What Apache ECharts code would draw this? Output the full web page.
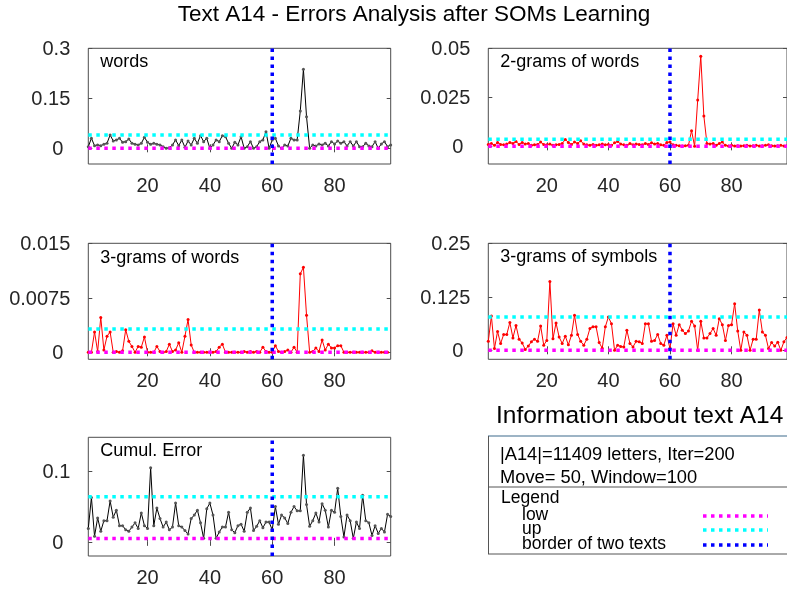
<!DOCTYPE html>
<html><head><meta charset="utf-8">
<script src="https://cdn.jsdelivr.net/npm/echarts@6/dist/echarts.min.js"></script>
<style>html,body{margin:0;padding:0;background:#fff}#c{width:787px;height:594px}</style>
</head><body><div id="c"></div>
<script>
const FONT = '"Liberation Sans", Arial, Helvetica, sans-serif';
const xTicks = [20, 40, 60, 80];
const borderX = 60;

const wordsErr = [0.005,0.03,0.008,0.01,0.008,0.012,0.015,0.04,0.022,0.025,
0.03,0.018,0.02,0.028,0.015,0.012,0.01,0.015,0.033,0.018,
0.012,0.015,0.012,0.01,0.005,0.0,0.002,0.01,0.025,0.008,
0.025,0.003,0.022,0.01,0.03,0.015,0.038,0.02,0.03,0.0,
0.01,0.025,0.02,0.038,0.035,0.015,0.0,0.018,0.01,
0.035,0.0,0.005,0.02,0.0,0.005,0.02,0.025,0.05,0.0,
0.025,0.03,0.007,0.0,0.01,0.007,0.03,0.025,0.025,0.112,
0.237,0.095,0.0,0.01,0.007,0.013,0.01,0.015,0.007,0.02,
0.013,0.022,0.015,0.02,0.007,0.02,0.007,0.02,0.005,0.005,
0.015,0.007,0.005,0.02,0.0,0.013,0.02,0.005,0.01];

const bigramErr = [0.001,0.0015,0.0005,0.002,0.001,0.0008,0.0012,0.002,0.0015,0.0025,
0.001,0.002,0.0012,0.0015,0.0005,0.0008,0.001,0.0022,0.001,0.0008,
0.0012,0.0005,0.0008,0.001,0.0015,0.0035,0.002,0.001,0.0022,0.0015,
0.0028,0.0012,0.0008,0.0005,0.001,0.0005,0.0008,0.0012,0.0008,0.001,
0.0005,0.0018,0.0025,0.0012,0.0008,0.0005,0.0015,0.0008,0.0012,
0.001,0.0008,0.0015,0.001,0.0018,0.0012,0.0015,0.0008,0.0005,0.002,
0.0022,0.0008,0.0005,0.0003,0.0002,0.0003,0.0005,0.008,0.0,0.0236,
0.046,0.0155,0.0015,0.0012,0.0015,0.0005,0.0015,0.0022,0.0005,0.0002,
0.0005,0.0002,0.0003,0.0002,0.0003,0.0005,0.0002,0.0003,0.0005,0.0002,
0.0003,0.0005,0.0008,0.0003,0.0002,0.0003,0.0005,0.0002,0.0003];

const trigramErr = [0.0,0.0,0.0028,0.0001,0.0048,0.0003,0.0022,0.0028,0.0,0.0001,
0.0,0.0002,0.0031,0.0015,0.0008,0.0,0.0008,0.0007,0.0021,0.0,
0.0,0.0,0.0008,0.0001,0.0,0.0001,0.0011,0.0001,0.0003,0.0013,
0.0,0.0022,0.0045,0.001,0.0,0.0,0.0,0.0,0.0,0.0,
0.0,0.0001,0.0007,0.0011,0.0,0.0,0.0,0.0,0.0,
0.0,0.0001,0.0,0.0001,0.0,0.0001,0.0,0.0007,0.0001,0.0,
0.0,0.0009,0.0001,0.0,0.0001,0.0003,0.0,0.0007,0.0,0.0108,
0.0117,0.0051,0.0,0.0001,0.0006,0.0001,0.0017,0.0003,0.0011,0.0006,
0.0006,0.0009,0.0009,0.0,0.0,0.0,0.0,0.0,0.0,0.0,
0.0,0.0,0.0002,0.0,0.0,0.0,0.0,0.0];

const symbolErr = [0.021,0.08,0.004,0.044,0.016,0.037,0.037,0.065,0.029,0.058,
0.026,0.017,0.002,0.01,0.02,0.026,0.021,0.057,0.012,0.023,
0.161,0.027,0.064,0.031,0.016,0.033,0.013,0.035,0.082,0.037,
0.021,0.012,0.026,0.051,0.055,0.055,0.018,0.005,0.055,0.078,
0.062,0.0,0.012,0.009,0.008,0.047,0.016,0.008,0.021,
0.02,0.016,0.062,0.062,0.021,0.023,0.037,0.016,0.012,0.035,
0.004,0.062,0.035,0.060,0.047,0.039,0.045,0.068,0.057,0.0,
0.068,0.029,0.029,0.039,0.051,0.035,0.074,0.060,0.023,0.058,
0.060,0.109,0.045,0.0,0.043,0.035,0.0,0.026,0.026,0.094,
0.043,0.035,0.004,0.018,0.010,0.019,0.0,0.02,0.03];

const cumulErr = [0.019,0.063,0.008,0.034,0.015,0.030,0.030,0.058,0.035,0.045,
0.023,0.023,0.017,0.015,0.021,0.027,0.019,0.041,0.023,0.019,
0.105,0.023,0.048,0.033,0.021,0.028,0.017,0.021,0.055,0.023,
0.021,0.016,0.011,0.033,0.038,0.045,0.027,0.005,0.047,0.055,
0.038,0.005,0.014,0.021,0.021,0.042,0.017,0.013,0.023,
0.025,0.015,0.042,0.048,0.016,0.022,0.030,0.020,0.028,0.028,
0.017,0.050,0.025,0.038,0.034,0.026,0.042,0.050,0.044,0.044,
0.123,0.053,0.022,0.030,0.041,0.028,0.054,0.045,0.021,0.045,
0.042,0.076,0.036,0.007,0.038,0.030,0.005,0.028,0.019,0.066,
0.030,0.027,0.009,0.023,0.012,0.019,0.014,0.039,0.036];

const panelNames = ['words', '2-grams of words', '3-grams of words', '3-grams of symbols', 'Cumul. Error'];
const panelData = [wordsErr, bigramErr, trigramErr, symbolErr, cumulErr];
const lowLevels = [0.0, 0.0, 0.0, 0.0, 0.0047];
const upLevels = [0.04, 0.0036, 0.0032, 0.078, 0.064];
const yMins = [-0.0471, -0.009, -0.00097, -0.021, -0.0201];
const yMaxs = [0.3, 0.05, 0.015, 0.25, 0.1484];
const yTickVals = [[0, 0.15, 0.3], [0, 0.025, 0.05], [0, 0.0075, 0.015], [0, 0.125, 0.25], [0, 0.1]];
const lineColors = ['#000000', '#ff0000', '#ff0000', '#ff0000', '#000000'];
const markerColors = ['#555555', '#ff0000', '#ff0000', '#ff0000', '#555555'];

const gridPos = [
  {left: 88.3, top: 48.3, h: 115.7}, {left: 488.3, top: 48.3, h: 115.7},
  {left: 88.3, top: 243.3, h: 116}, {left: 488.3, top: 243.3, h: 116},
  {left: 88.3, top: 437.3, h: 118.7}
];
const labelY = [62, 62, 258, 257, 451];
const GW = 302.4;

const grids = [], xAxes = [], yAxes = [], series = [], graphics = [];
panelData.forEach((vals, p) => {
  grids.push({left: gridPos[p].left, top: gridPos[p].top, width: GW, height: gridPos[p].h,
    show: true, borderColor: '#4d4d4d', borderWidth: 1, backgroundColor: '#fff'});
  const xBase = {gridIndex: p, type: 'value', min: 1, max: 98,
    splitLine: {show: false}, axisLine: {show: false}};
  xAxes.push(Object.assign({}, xBase, {position: 'bottom',
    axisTick: {show: true, inside: true, length: 4, customValues: xTicks, lineStyle: {color: '#4d4d4d'}},
    axisLabel: {show: true, customValues: xTicks, margin: 12, fontSize: 20, color: '#262626', fontFamily: FONT}}));
  xAxes.push(Object.assign({}, xBase, {position: 'top',
    axisTick: {show: true, inside: true, length: 4, customValues: xTicks, lineStyle: {color: '#4d4d4d'}},
    axisLabel: {show: false}}));
  const yBase = {gridIndex: p, type: 'value', min: yMins[p], max: yMaxs[p],
    splitLine: {show: false}, axisLine: {show: false}};
  yAxes.push(Object.assign({}, yBase, {position: 'left',
    axisTick: {show: true, inside: true, length: 4, customValues: yTickVals[p], lineStyle: {color: '#4d4d4d'}},
    axisLabel: {show: true, customValues: yTickVals[p], margin: 18, fontSize: 20, color: '#262626', fontFamily: FONT,
      padding: [3, 0, 0, 0],
      formatter: v => (v === 0 ? '{z|0}' : String(v)),
      rich: {z: {fontSize: 20, fontFamily: FONT, color: '#262626', padding: [0, 7, 0, 0]}}}}));
  yAxes.push(Object.assign({}, yBase, {position: 'right',
    axisTick: {show: true, inside: true, length: 4, customValues: yTickVals[p], lineStyle: {color: '#4d4d4d'}},
    axisLabel: {show: false}}));
  const xi = 2 * p, yi = 2 * p;
  series.push({type: 'line', xAxisIndex: xi, yAxisIndex: yi, z: 3,
    data: vals.map((v, i) => [i + 1, v]),
    symbol: 'circle', symbolSize: 3, showSymbol: true,
    lineStyle: {color: lineColors[p], width: 1},
    itemStyle: {color: markerColors[p]}, animation: false, clip: true});
  series.push({type: 'line', xAxisIndex: xi, yAxisIndex: yi, z: 4, symbol: 'none',
    data: [[1, lowLevels[p]], [98, lowLevels[p]]],
    lineStyle: {color: '#ff00ff', width: 3.5, type: [3.5, 4.5]}, animation: false});
  series.push({type: 'line', xAxisIndex: xi, yAxisIndex: yi, z: 4, symbol: 'none',
    data: [[1, upLevels[p]], [98, upLevels[p]]],
    lineStyle: {color: '#00ffff', width: 3.5, type: [3.5, 4.5]}, animation: false});
  series.push({type: 'line', xAxisIndex: xi, yAxisIndex: yi, z: 5, symbol: 'none',
    data: [[borderX, yMins[p]], [borderX, yMaxs[p]]],
    lineStyle: {color: '#0000ff', width: 3.5, type: [3.5, 4.5]}, animation: false});
  graphics.push({type: 'text', x: gridPos[p].left + 12, y: labelY[p], z: 10,
    style: {text: panelNames[p], font: '18px ' + FONT, fill: '#000', verticalAlign: 'middle'}});
});

// Title
graphics.push({type: 'text', x: 414, y: 15, z: 10,
  style: {text: 'Text A14 - Errors Analysis after SOMs Learning', font: '22.5px ' + FONT, fill: '#000',
    align: 'center', verticalAlign: 'middle'}});

// Information box
const infoTitle = 'Information about text A14';
const infoLines = ['|A14|=11409 letters, Iter=200', 'Move= 50, Window=100'];
const legendItems = ['low', 'up', 'border of two texts'];
const legendColors = ['#ff00ff', '#00ffff', '#0000ff'];
const T = (text, x, y, size) => ({type: 'text', x: x, y: y, z: 10,
  style: {text: text, font: size + 'px ' + FONT, fill: '#000', verticalAlign: 'middle'}});
graphics.push(T(infoTitle, 496, 416, 24.5));
graphics.push({type: 'line', z: 10, shape: {x1: 488, y1: 436, x2: 790, y2: 436}, style: {stroke: '#3c6a8c', lineWidth: 1.2}});
graphics.push({type: 'line', z: 10, shape: {x1: 488.5, y1: 436, x2: 488.5, y2: 554}, style: {stroke: '#555', lineWidth: 1}});
graphics.push({type: 'line', z: 10, shape: {x1: 488, y1: 487, x2: 790, y2: 487}, style: {stroke: '#555', lineWidth: 1}});
graphics.push({type: 'line', z: 10, shape: {x1: 488, y1: 554, x2: 790, y2: 554}, style: {stroke: '#555', lineWidth: 1}});
graphics.push(T(infoLines[0], 500, 455, 18.3));
graphics.push(T(infoLines[1], 500, 478, 18.3));
graphics.push(T('Legend', 501, 498, 17.5));
const legendTextY = [515, 529, 544];
const legendLineY = [516, 530, 545];
legendItems.forEach((t, i) => {
  graphics.push(T(t, 522, legendTextY[i], 17.5));
  graphics.push({type: 'line', z: 10, shape: {x1: 703, y1: legendLineY[i], x2: 768, y2: legendLineY[i]},
    style: {stroke: legendColors[i], lineWidth: 3.5, lineDash: [3.5, 4.5]}});
});

const chart = echarts.init(document.getElementById('c'), null, {renderer: 'canvas'});
chart.setOption({animation: false, backgroundColor: '#fff', grid: grids, xAxis: xAxes, yAxis: yAxes, series: series, graphic: graphics});
</script></body></html>
